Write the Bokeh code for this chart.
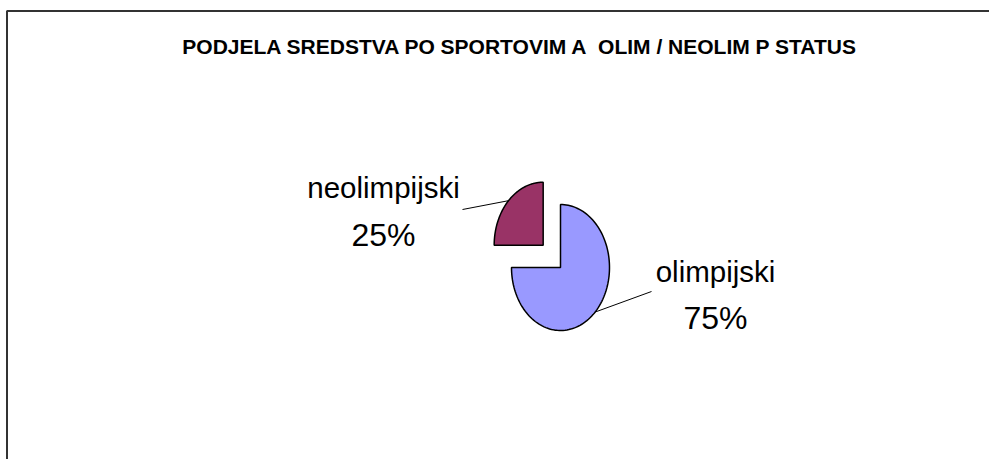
import numpy as np
from bokeh.plotting import figure
from bokeh.models import Range1d
from bokeh.core.properties import value
from bokeh.embed import file_html
from bokeh.resources import INLINE

# ---- data ----
categories = ["olimpijski", "neolimpijski"]
shares = [75, 25]
colors = ["#9999FF", "#993366"]
exploded = [0.0, 0.5]
title_text = "PODJELA SREDSTVA PO SPORTOVIM A\u00a0 OLIM / NEOLIM P STATUS"

W, H = 989, 459
FONT = value("Liberation Sans")
p = figure(width=W, height=H, output_backend="svg", toolbar_location=None,
           x_range=Range1d(0, W), y_range=Range1d(H, 0), min_border=0)
p.axis.visible = False
p.grid.visible = False
p.outline_line_color = None
p.background_fill_color = "white"
p.border_fill_color = "white"

# chart border
p.line(x=[6.5, 6.5, W + 5], y=[H + 5, 10.5, 10.5], line_color="#333333", line_width=2)

# title
p.text(x=[520], y=[46], text=[title_text], text_font=FONT,
       text_font_style="bold", text_font_size="21px", text_align="center",
       text_baseline="alphabetic", text_color="black")

# pie (elliptical, clockwise from 12 o'clock)
cx, cy, rx, ry = 560.0, 267.0, 49.0, 63.0
total = float(sum(shares))
fracs = np.array(shares) / total
starts = 90.0 - 360.0 * np.concatenate([[0.0], np.cumsum(fracs)[:-1]])
ends = starts - 360.0 * fracs

label_pos = {"olimpijski": (715, 271, 317, 651, 291),
             "neolimpijski": (383, 187, 234, 462, 209)}

for cat, f, c, e, a0, a1 in zip(categories, fracs, colors, exploded, starts, ends):
    mid = np.radians((a0 + a1) / 2.0)
    ox = cx + e * rx * np.cos(mid)
    oy = cy - e * ry * np.sin(mid)
    t = np.radians(np.linspace(a0, a1, 120))
    xs = np.concatenate([[ox], ox + rx * np.cos(t), [ox]])
    ys = np.concatenate([[oy], oy - ry * np.sin(t), [oy]])
    p.patch(x=xs, y=ys, fill_color=c, line_color="black", line_width=1.5)

    lx, by1, by2, ex, ey = label_pos[cat]
    sx = ox + rx * np.cos(mid)
    sy = oy - ry * np.sin(mid)
    p.line(x=[sx, ex], y=[sy, ey], line_color="black", line_width=1)
    pct = f"{round(f * 100)}%"
    p.text(x=[lx], y=[by1], text=[cat], text_font=FONT,
           text_font_size="29.5px", text_align="center", text_baseline="alphabetic",
           text_color="black")
    p.text(x=[lx], y=[by2], text=[pct], text_font=FONT,
           text_font_size="32px", text_align="center", text_baseline="alphabetic",
           text_color="black")

open("out.html", "w").write(file_html(p, INLINE))
